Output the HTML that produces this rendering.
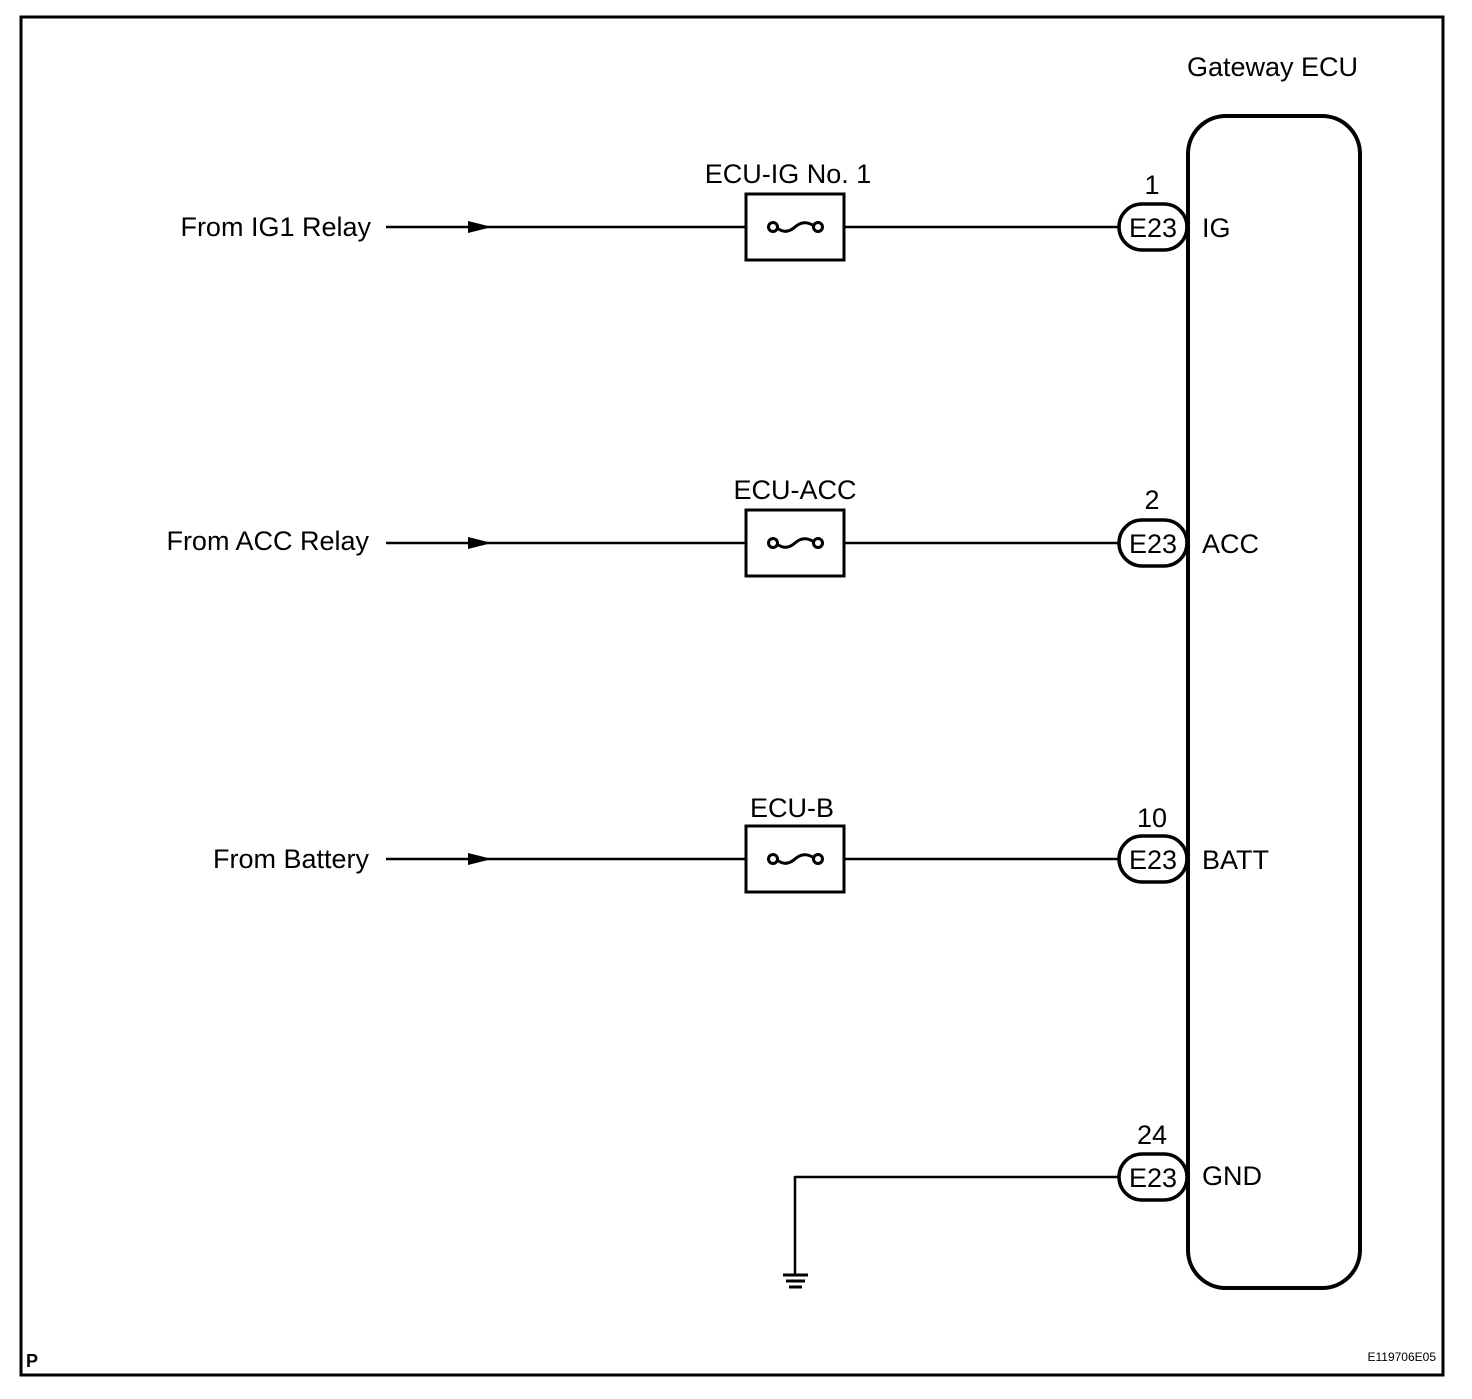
<!DOCTYPE html>
<html><head><style>body{margin:0;background:#fff}</style></head><body>
<svg width="1472" height="1394" viewBox="0 0 1472 1394" xmlns="http://www.w3.org/2000/svg" font-family="Liberation Sans, Arial, sans-serif" fill="none" stroke="#000">
<rect x="21" y="17" width="1422" height="1358" stroke-width="3"/>
<rect x="1188" y="116" width="172" height="1172" rx="38" stroke-width="4"/>
<g fill="#000" stroke="none" font-size="27">
<text x="1187" y="76">Gateway ECU</text>
<text x="371" y="236" text-anchor="end">From IG1 Relay</text>
<text x="369" y="550" text-anchor="end">From ACC Relay</text>
<text x="369" y="868" text-anchor="end">From Battery</text>
<text x="788" y="183" text-anchor="middle">ECU-IG No. 1</text>
<text x="795" y="499" text-anchor="middle">ECU-ACC</text>
<text x="792" y="817" text-anchor="middle">ECU-B</text>
<text x="1202" y="237">IG</text>
<text x="1202" y="553">ACC</text>
<text x="1202" y="869">BATT</text>
<text x="1202" y="1185">GND</text>
<text x="1152" y="194" text-anchor="middle">1</text>
<text x="1152" y="509" text-anchor="middle">2</text>
<text x="1152" y="827" text-anchor="middle">10</text>
<text x="1152" y="1144" text-anchor="middle">24</text>
<text x="26" y="1367" font-size="18" font-weight="bold">P</text>
<text x="1436" y="1361" font-size="12" text-anchor="end">E119706E05</text>
</g>
<g id="r1">
<line x1="386" y1="227" x2="745" y2="227" stroke-width="2.5"/>
<polygon points="468,221 492,227 468,233" fill="#000" stroke="none"/>
<rect x="746" y="194" width="98" height="66" stroke-width="3"/>
<line x1="845" y1="227" x2="1119" y2="227" stroke-width="2.5"/>
<circle cx="773" cy="227" r="4.5" stroke-width="3" fill="#fff"/>
<circle cx="818" cy="227" r="4.5" stroke-width="3" fill="#fff"/>
<path d="M777 228 Q786 235 795 227 Q804 219 814 226" stroke-width="3"/>
<rect x="1119" y="204" width="68" height="46" rx="23" stroke-width="3.5" fill="#fff"/>
<text x="1153" y="237" font-size="27" fill="#000" stroke="none" text-anchor="middle">E23</text>
</g>
<use href="#r1" y="316"/>
<use href="#r1" y="632"/>
<line x1="795" y1="1177" x2="1119" y2="1177" stroke-width="2.5"/>
<line x1="795" y1="1176" x2="795" y2="1274" stroke-width="2.5"/>
<line x1="783" y1="1275" x2="808" y2="1275" stroke-width="3"/>
<line x1="786" y1="1281" x2="805" y2="1281" stroke-width="3"/>
<line x1="789" y1="1287" x2="802" y2="1287" stroke-width="3"/>
<rect x="1119" y="1154" width="68" height="46" rx="23" stroke-width="3.5" fill="#fff"/>
<text x="1153" y="1187" font-size="27" fill="#000" stroke="none" text-anchor="middle">E23</text>
</svg>
</body></html>
